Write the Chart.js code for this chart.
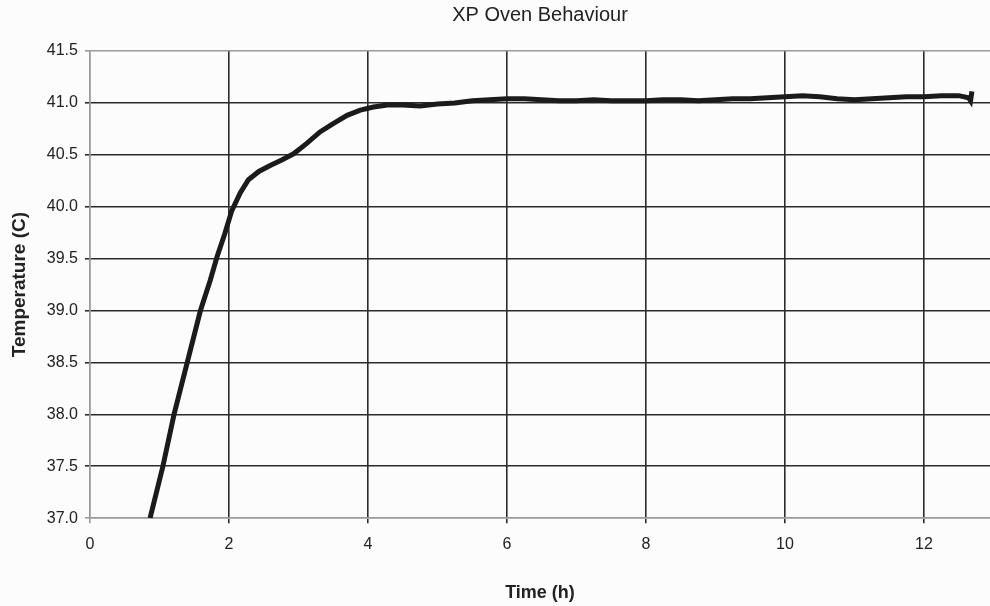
<!DOCTYPE html>
<html>
<head>
<meta charset="utf-8">
<script src="https://cdn.jsdelivr.net/npm/chart.js@4/dist/chart.umd.min.js"></script>
<style>
  html, body { margin: 0; padding: 0; background: #fcfcfc; overflow: hidden; }
  #wrap { width: 990px; height: 606px; }
</style>
</head>
<body>
<div id="wrap"><canvas id="ovenChart" width="990" height="606"></canvas></div>
<script>
// time in hours, temperature in C
const timeH = [
  0.865, 1.05, 1.21, 1.40, 1.59, 1.73, 1.83, 1.94, 2.04, 2.16, 2.28, 2.43, 2.60, 2.76, 2.93,
  3.12, 3.31, 3.50, 3.70, 3.89, 4.08, 4.28, 4.50, 4.75, 5.00, 5.25, 5.50, 5.75, 6.00, 6.25,
  6.50, 6.75, 7.00, 7.25, 7.50, 7.75, 8.00, 8.25, 8.50, 8.75, 9.00, 9.25, 9.50, 9.75, 10.00,
  10.25, 10.50, 10.75, 11.00, 11.25, 11.50, 11.75, 12.00, 12.25, 12.50, 12.64, 12.67, 12.69
];
const tempC = [
  37.00, 37.50, 38.00, 38.50, 39.00, 39.29, 39.52, 39.74, 39.96, 40.13, 40.26, 40.34, 40.40, 40.45, 40.51,
  40.61, 40.72, 40.80, 40.88, 40.93, 40.96, 40.98, 40.98, 40.97, 40.99, 41.00, 41.02, 41.03, 41.04, 41.04,
  41.03, 41.02, 41.02, 41.03, 41.02, 41.02, 41.02, 41.03, 41.03, 41.02, 41.03, 41.04, 41.04, 41.05, 41.06,
  41.07, 41.06, 41.04, 41.03, 41.04, 41.05, 41.06, 41.06, 41.07, 41.07, 41.05, 41.02, 41.11
];
const xTicks = [0, 2, 4, 6, 8, 10, 12];
const yMin = 37.0, yMax = 41.5;

const points = timeH.map((t, i) => ({ x: t, y: tempC[i] }));

const gridDark = '#2b2b2b';
const edgeGray = '#9a9a9a';

const ctx = document.getElementById('ovenChart').getContext('2d');
new Chart(ctx, {
  type: 'line',
  data: {
    datasets: [{
      label: 'Temperature',
      data: points,
      borderColor: '#1b1b1b',
      borderWidth: 5,
      pointRadius: 0,
      tension: 0,
      fill: false
    }]
  },
  options: {
    responsive: false,
    animation: false,
    layout: { padding: 0 },
    plugins: {
      legend: { display: false },
      tooltip: { enabled: false },
      title: {
        display: true,
        text: 'XP Oven Behaviour',
        fullSize: false,
        color: '#222',
        font: { family: 'Liberation Sans, Arial, sans-serif', size: 20, weight: 'normal' },
        padding: { top: 3, bottom: 24 }
      }
    },
    scales: {
      x: {
        type: 'linear',
        min: 0,
        max: 12.95,
        afterBuildTicks: (axis) => { axis.ticks = xTicks.map(v => ({ value: v })); },
        ticks: {
          color: '#222',
          padding: 12,
          maxRotation: 0,
          font: { family: 'Liberation Sans, Arial, sans-serif', size: 16 }
        },
        grid: {
          color: (c) => (c.tick && c.tick.value === 0 ? edgeGray : gridDark),
          lineWidth: 1.6,
          tickLength: 5,
          drawTicks: true
        },
        border: { color: edgeGray, width: 1.5 },
        title: {
          display: true,
          text: 'Time (h)',
          color: '#222',
          font: { family: 'Liberation Sans, Arial, sans-serif', size: 18, weight: 'bold' },
          padding: { top: 16, bottom: 2 }
        }
      },
      y: {
        min: yMin,
        max: yMax,
        ticks: {
          stepSize: 0.5,
          color: '#222',
          padding: 7,
          font: { family: 'Liberation Sans, Arial, sans-serif', size: 16 },
          callback: (v) => Number(v).toFixed(1)
        },
        grid: {
          color: (c) => (c.tick && (c.tick.value === yMax || c.tick.value === yMin) ? edgeGray : gridDark),
          lineWidth: 1.6,
          tickLength: 5,
          drawTicks: true
        },
        border: { color: edgeGray, width: 1.5 },
        title: {
          display: true,
          text: 'Temperature (C)',
          color: '#222',
          font: { family: 'Liberation Sans, Arial, sans-serif', size: 19, weight: 'bold' },
          padding: { top: 8, bottom: 9 }
        }
      }
    }
  },
  plugins: [{
    id: 'bg',
    beforeDraw: (chart) => {
      const c = chart.ctx;
      c.save();
      c.fillStyle = '#fcfcfc';
      c.fillRect(0, 0, chart.width, chart.height);
      c.restore();
    }
  }]
});
</script>
</body>
</html>
